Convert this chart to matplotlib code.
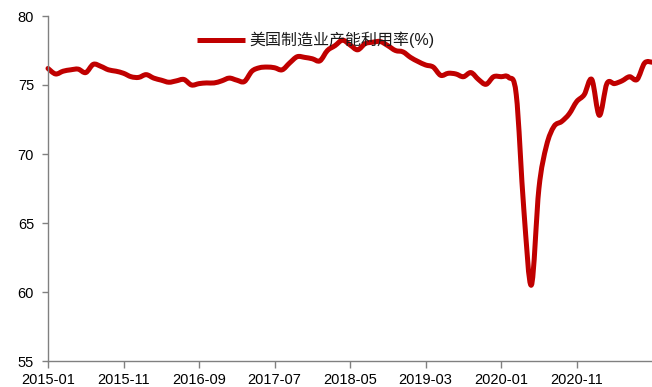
import matplotlib
matplotlib.use("Agg")
import matplotlib.pyplot as plt
from matplotlib.path import Path
from matplotlib.patches import PathPatch
from matplotlib.lines import Line2D
import numpy as np
import pandas as pd

plt.rcParams['font.family'] = ['Liberation Sans', 'Noto Sans CJK SC', 'DejaVu Sans']

# US manufacturing capacity utilization, monthly (%)
util = [
    76.2, 75.8, 76.0, 76.1, 76.15, 75.9, 76.5, 76.35, 76.1, 76.0,   # 2015
    75.85, 75.6, 75.55, 75.75, 75.5, 75.35, 75.2, 75.3, 75.4, 75.0,
    75.1, 75.15, 75.15, 75.3, 75.5, 75.35, 75.25, 76.0, 76.25, 76.3,
    76.25, 76.1, 76.6, 77.05, 77.0, 76.9, 76.75, 77.5, 77.85, 78.25,
    77.9, 77.55, 78.0, 78.1, 78.15, 77.85, 77.5, 77.4, 77.0, 76.7,
    76.45, 76.3, 75.7, 75.85, 75.8, 75.6, 75.9, 75.4, 75.05, 75.6,
    75.6, 75.55, 74.3, 66.0, 60.5, 67.5, 70.6, 72.0, 72.35, 72.9,
    73.8, 74.3, 75.4, 72.8, 75.1, 75.1, 75.3, 75.6, 75.4, 76.6,
    76.65,
]
months = pd.period_range('2015-01', periods=len(util), freq='M')
month_labels = [p.strftime('%Y-%m') for p in months]
series_name = '美国制造业产能利用率(%)'
line_color = '#c00000'


def smooth_path(xs, ys):
    """Cubic Bezier path through every point (Catmull-Rom style tangents)."""
    pts = np.column_stack([xs, ys]).astype(float)
    n = len(pts)
    verts = [pts[0]]
    codes = [Path.MOVETO]
    for i in range(n - 1):
        p0 = pts[max(i - 1, 0)]
        p1 = pts[i]
        p2 = pts[i + 1]
        p3 = pts[min(i + 2, n - 1)]
        c1 = p1 + (p2 - p0) / 6.0
        c2 = p2 - (p3 - p1) / 6.0
        verts += [c1, c2, p2]
        codes += [Path.CURVE4] * 3
    return Path(verts, codes)


fig = plt.figure(figsize=(6.52, 3.87), dpi=100)
ax = fig.add_axes([48 / 652, 26 / 387, 604.2 / 652, 345 / 387])

x = np.arange(len(util))
ax.add_patch(PathPatch(smooth_path(x, util), facecolor='none', edgecolor=line_color,
                       lw=3.6, joinstyle='round', capstyle='round', clip_on=False))

ax.set_xlim(0, len(util) - 1)
ax.set_ylim(55, 80)
ax.set_yticks(range(55, 81, 5))
tick_idx = x[:len(util) - 1:10]
ax.set_xticks(tick_idx)
ax.set_xticklabels([month_labels[i] for i in tick_idx])

for side in ('top', 'right'):
    ax.spines[side].set_visible(False)
for side in ('left', 'bottom'):
    ax.spines[side].set_color('#808080')
    ax.spines[side].set_linewidth(1.0)
ax.tick_params(axis='both', colors='#808080', labelcolor='black', labelsize=10.5,
               direction='out', width=1.0)
ax.tick_params(axis='y', length=4, pad=6)
ax.tick_params(axis='x', length=5, pad=4)

handle = Line2D([], [], color=line_color, lw=3.6, solid_capstyle='butt')
ax.legend([handle], [series_name], loc='center left',
          bbox_to_anchor=(197 / 652, 1 - 40 / 387),
          bbox_transform=fig.transFigure, frameon=False, borderpad=0,
          borderaxespad=0, handlelength=3.0, handletextpad=0.3,
          prop={'size': 11.5}, labelcolor='#1a1a1a')

fig.savefig('out.png', dpi=100)
